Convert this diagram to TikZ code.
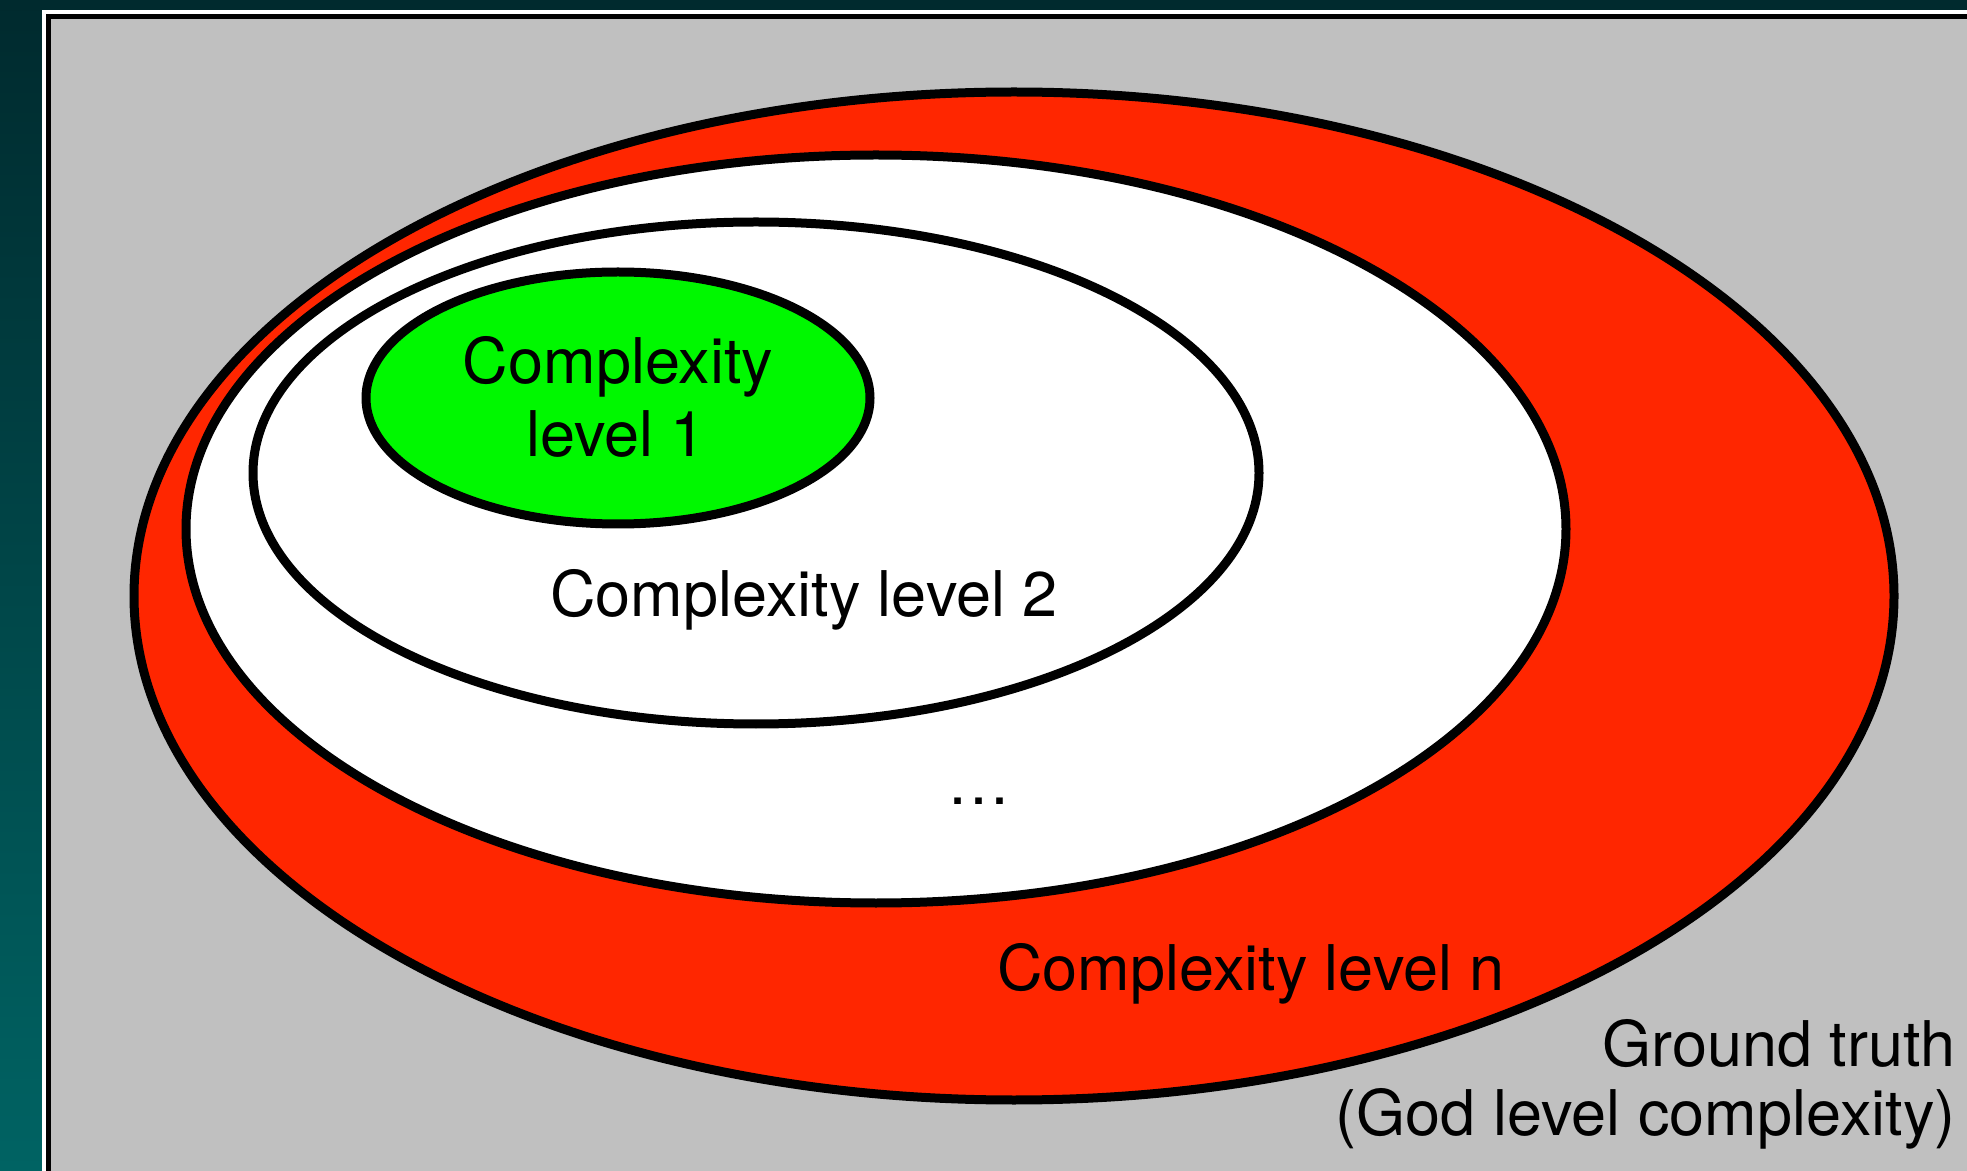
\documentclass[tikz,border=0pt]{standalone}
\usepackage{fontspec}
\setmainfont{TeX Gyre Heros}
\definecolor{tealtop}{RGB}{0,42,46}
\definecolor{tealbot}{RGB}{0,99,99}
\definecolor{panelgray}{RGB}{192,192,192}
\definecolor{setred}{RGB}{255,38,0}
\definecolor{setgreen}{RGB}{0,248,0}
\tikzset{
  setline/.style={draw=black, line width=4.5pt},
  lbl/.style={inner sep=0pt, font=\fontsize{31.5}{37}\selectfont, text=black},
}
\begin{document}
\begin{tikzpicture}[x=0.5pt, y=-0.5pt]
\useasboundingbox (0,0) rectangle (1967,1171);
\clip (0,0) rectangle (1967,1171);
% background
\shade[top color=tealtop, bottom color=tealbot] (0,0) rectangle (1967,1171);
\fill[white] (42,10) rectangle (2000,1200);
\draw[fill=panelgray, line width=2.5pt] (48.5,16.5) rectangle (2000,1200);
% sets
\draw[setline, fill=setred] (1014,596) ellipse [x radius=880, y radius=504];
\draw[setline, fill=white] (876,529) ellipse [x radius=690, y radius=374];
\draw[setline, fill=white] (756,473) ellipse [x radius=503, y radius=251];
\draw[setline, fill=setgreen] (618,398) ellipse [x radius=252, y radius=126];
% labels
\node[lbl, anchor=base] (l1a) at (618,384) {Complexity};
\node[lbl, anchor=base] (l1b) at (616,457) {level 1};
\node[lbl, anchor=base] (l2) at (804,617) {Complexity level 2};
\node[lbl, anchor=base] (dots) at (979,805) {…};
\node[lbl, anchor=base] (ln) at (1251,990) {Complexity level n};
\node[lbl, anchor=base east] (gt1) at (1956,1066) {Ground truth};
\node[lbl, anchor=base east] (gt2) at (1956,1135) {(God level complexity)};
\end{tikzpicture}
\end{document}
